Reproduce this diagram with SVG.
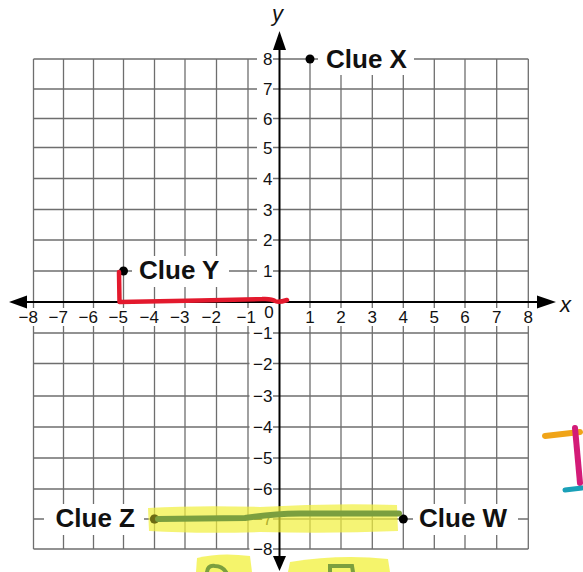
<svg xmlns="http://www.w3.org/2000/svg" width="583" height="572" viewBox="0 0 583 572">
<defs>
<style>
.grid line{stroke:#6e6e6e;stroke-width:1.3}
.bg{fill:#ffffff}
.tick{font-family:"Liberation Sans",Arial,sans-serif;font-size:17px;fill:#111}
.clue{font-family:"Liberation Sans",Arial,sans-serif;font-size:26px;font-weight:bold;fill:#111}
.axlab{font-family:"Liberation Sans",Arial,sans-serif;font-size:22px;font-style:italic;fill:#111}
.axis{stroke:#000;stroke-width:2}
.dot{fill:#000}
</style>
</defs>
<rect width="583" height="572" fill="#fff"/>
<g class="grid" id="grid">
<line x1="33.5" y1="59" x2="528.3" y2="59"/>
<line x1="33.5" y1="89" x2="528.3" y2="89"/>
<line x1="33.5" y1="118.5" x2="528.3" y2="118.5"/>
<line x1="33.5" y1="147.5" x2="528.3" y2="147.5"/>
<line x1="33.5" y1="178.5" x2="528.3" y2="178.5"/>
<line x1="33.5" y1="209.5" x2="528.3" y2="209.5"/>
<line x1="33.5" y1="240" x2="528.3" y2="240"/>
<line x1="33.5" y1="271" x2="528.3" y2="271"/>
<line x1="33.5" y1="333" x2="528.3" y2="333"/>
<line x1="33.5" y1="363.5" x2="528.3" y2="363.5"/>
<line x1="33.5" y1="396" x2="528.3" y2="396"/>
<line x1="33.5" y1="427" x2="528.3" y2="427"/>
<line x1="33.5" y1="458" x2="528.3" y2="458"/>
<line x1="33.5" y1="489" x2="528.3" y2="489"/>
<line x1="33.5" y1="519" x2="528.3" y2="519"/>
<line x1="33.5" y1="549" x2="528.3" y2="549"/>
<line x1="33.5" y1="59" x2="33.5" y2="549"/>
<line x1="63.5" y1="59" x2="63.5" y2="549"/>
<line x1="93.5" y1="59" x2="93.5" y2="549"/>
<line x1="123.5" y1="59" x2="123.5" y2="549"/>
<line x1="154.5" y1="59" x2="154.5" y2="549"/>
<line x1="185" y1="59" x2="185" y2="549"/>
<line x1="216.5" y1="59" x2="216.5" y2="549"/>
<line x1="248" y1="59" x2="248" y2="549"/>
<line x1="310" y1="59" x2="310" y2="549"/>
<line x1="341" y1="59" x2="341" y2="549"/>
<line x1="372.3" y1="59" x2="372.3" y2="549"/>
<line x1="403.3" y1="59" x2="403.3" y2="549"/>
<line x1="434.3" y1="59" x2="434.3" y2="549"/>
<line x1="465" y1="59" x2="465" y2="549"/>
<line x1="496.7" y1="59" x2="496.7" y2="549"/>
<line x1="528.3" y1="59" x2="528.3" y2="549"/>
</g>
<g id="tick-label-bg" class="bg">
<rect x="15" y="308" width="25" height="18"/>
<rect x="45" y="308" width="25" height="18"/>
<rect x="75" y="308" width="25" height="18"/>
<rect x="105" y="308" width="25" height="18"/>
<rect x="136" y="308" width="25" height="18"/>
<rect x="167" y="308" width="25" height="18"/>
<rect x="198" y="308" width="25" height="18"/>
<rect x="230" y="308" width="28" height="18"/>
<rect x="262" y="305" width="13" height="14"/>
<rect x="303" y="308" width="14" height="18"/>
<rect x="334" y="308" width="14" height="18"/>
<rect x="365" y="308" width="14" height="18"/>
<rect x="396" y="308" width="14" height="18"/>
<rect x="427" y="308" width="14" height="18"/>
<rect x="458" y="308" width="14" height="18"/>
<rect x="490" y="308" width="14" height="18"/>
<rect x="521" y="308" width="14" height="18"/>
<rect x="257" y="50" width="16" height="18"/>
<rect x="257" y="80" width="16" height="18"/>
<rect x="257" y="109.5" width="16" height="18"/>
<rect x="257" y="138.5" width="16" height="18"/>
<rect x="257" y="169.5" width="16" height="18"/>
<rect x="257" y="200.5" width="16" height="18"/>
<rect x="257" y="231" width="16" height="18"/>
<rect x="257" y="262" width="16" height="18"/>
<rect x="249.5" y="324" width="23.5" height="18"/>
<rect x="249.5" y="354.5" width="23.5" height="18"/>
<rect x="249.5" y="387" width="23.5" height="18"/>
<rect x="249.5" y="418" width="23.5" height="18"/>
<rect x="249.5" y="449" width="23.5" height="18"/>
<rect x="249.5" y="480" width="23.5" height="18"/>
<rect x="249.5" y="510" width="23.5" height="18"/>
<rect x="249.5" y="540" width="23.5" height="18"/>
</g>
<g id="x-tick-labels" class="tick">
<text x="38" y="323" text-anchor="end">−8</text>
<text x="68" y="323" text-anchor="end">−7</text>
<text x="98" y="323" text-anchor="end">−6</text>
<text x="128" y="323" text-anchor="end">−5</text>
<text x="159" y="323" text-anchor="end">−4</text>
<text x="189.5" y="323" text-anchor="end">−3</text>
<text x="221" y="323" text-anchor="end">−2</text>
<text x="256" y="323" text-anchor="end">−1</text>
<text x="269" y="318" text-anchor="middle">0</text>
<text x="310" y="323" text-anchor="middle">1</text>
<text x="341" y="323" text-anchor="middle">2</text>
<text x="372.3" y="323" text-anchor="middle">3</text>
<text x="403.3" y="323" text-anchor="middle">4</text>
<text x="434.3" y="323" text-anchor="middle">5</text>
<text x="465" y="323" text-anchor="middle">6</text>
<text x="496.7" y="323" text-anchor="middle">7</text>
<text x="528.3" y="323" text-anchor="middle">8</text>
</g>
<g id="y-tick-labels" class="tick" text-anchor="end">
<text x="272.5" y="65">8</text>
<text x="272.5" y="95">7</text>
<text x="272.5" y="124.5">6</text>
<text x="272.5" y="153.5">5</text>
<text x="272.5" y="184.5">4</text>
<text x="272.5" y="215.5">3</text>
<text x="272.5" y="246">2</text>
<text x="272.5" y="277">1</text>
<text x="272.5" y="339">−1</text>
<text x="272.5" y="369.5">−2</text>
<text x="272.5" y="402">−3</text>
<text x="272.5" y="433">−4</text>
<text x="272.5" y="464">−5</text>
<text x="272.5" y="495">−6</text>
<text x="272.5" y="525">−7</text>
<text x="272.5" y="555">−8</text>
</g>
<g id="axes">
<line class="axis" x1="24" y1="302" x2="540" y2="302"/>
<polygon points="9,302 27,295.5 27,308.5" fill="#000"/>
<polygon points="556,302 537,295.5 537,308.5" fill="#000"/>
<line class="axis" x1="279.5" y1="47" x2="279.5" y2="558"/>
<polygon points="279.5,31 273,50 286,50" fill="#000"/>
<polygon points="279.5,571 273,556 286,556" fill="#000"/>
<text class="axlab" x="560" y="312">x</text>
<text class="axlab" x="272" y="21">y</text>
</g>
<g id="clue-x">
<rect class="bg" x="318" y="44" width="96" height="31"/>
<circle class="dot" cx="310" cy="59" r="4.5"/>
<text class="clue" x="326" y="68">Clue X</text>
</g>
<g id="clue-y">
<rect class="bg" x="132" y="256" width="97" height="31"/>
<circle class="dot" cx="123.5" cy="271" r="4.5"/>
<text class="clue" x="139" y="279">Clue Y</text>
</g>
<g id="clue-z">
<rect class="bg" x="44" y="504" width="100" height="31"/>
<circle class="dot" cx="154.5" cy="519" r="4.5"/>
<text class="clue" x="135" y="527" text-anchor="end">Clue Z</text>
</g>
<g id="clue-w">
<rect class="bg" x="413" y="504" width="105" height="31"/>
<circle class="dot" cx="403.3" cy="519" r="4.5"/>
<text class="clue" x="419" y="527">Clue W</text>
</g>
<g id="annotations">
<path d="M119,272 L119.5,302 L200,300.5 L262,299 Q272,298.5 275,301 Q278,303 287,300" fill="none" stroke="#e3192d" stroke-width="4.5" stroke-linecap="round" stroke-linejoin="round"/>
<path d="M148,508 Q200,505 260,507 Q330,503 397,505 L398,531 Q330,534 260,532 Q200,534 149,531 Z" fill="#f1f03a" opacity="0.7"/>
<circle cx="154.5" cy="519" r="4.5" fill="#6b6a14"/>
<path d="M158,519 L245,518 Q270,514 300,513.5 L399,513.5" fill="none" stroke="#7b9f3f" stroke-width="6" stroke-linecap="round"/>
<path d="M196,572 L197,558 Q220,552 250,556 L252,572 Z" fill="#f1f03a" opacity="0.75"/>
<path d="M288,572 L290,562 Q340,554 388,559 L390,572 Z" fill="#f1f03a" opacity="0.75"/>
<path d="M207,572 Q208,565 215,566 Q222,566 226,572" fill="none" stroke="#7b9f3f" stroke-width="4" stroke-linecap="round"/>
<path d="M330,572 L330,566 L352,566 L353,572" fill="none" stroke="#7b9f3f" stroke-width="4" stroke-linecap="round"/>
<path d="M545,436 L580,432" stroke="#f0a418" stroke-width="6" stroke-linecap="round"/>
<path d="M575,428 L580,483" stroke="#d31b78" stroke-width="6" stroke-linecap="round"/>
<path d="M565,490 L582,488" stroke="#1aa0b8" stroke-width="5" stroke-linecap="round"/>
</g>
</svg>
